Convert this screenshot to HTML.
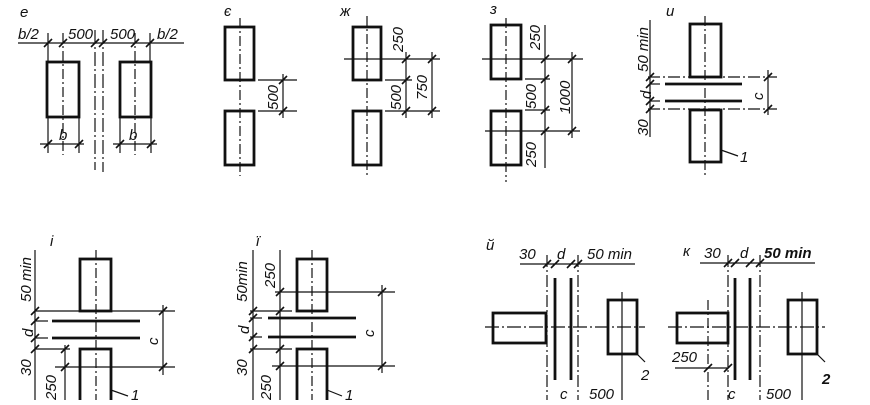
<!DOCTYPE html>
<html><head><meta charset="utf-8"><style>
body{margin:0;background:#fff;width:870px;height:400px;overflow:hidden}
text{font-family:"Liberation Sans","DejaVu Sans",sans-serif;font-style:italic;font-size:15px;fill:#111}
</style></head><body>
<svg width="870" height="400" viewBox="0 0 870 400" xmlns="http://www.w3.org/2000/svg">
<defs><path id="t" d="M-4,4 L4,-4" stroke="#111" stroke-width="1.6"/></defs>
<g stroke="#111" fill="none">
<!-- e -->
<g stroke-width="2.8"><rect x="47" y="62" width="32" height="55"/><rect x="120" y="62" width="31" height="55"/></g>
<g stroke-width="1.2">
<line x1="18" y1="43" x2="184" y2="43"/>
<line x1="48" y1="33" x2="48" y2="62"/><line x1="63" y1="33" x2="63" y2="155" stroke-dasharray="10,3,2,3"/>
<line x1="135" y1="33" x2="135" y2="155" stroke-dasharray="10,3,2,3"/><line x1="150" y1="33" x2="150" y2="62"/>
<line x1="95" y1="30" x2="95" y2="170" stroke-dasharray="14,3,2,3"/><line x1="103" y1="30" x2="103" y2="172" stroke-dasharray="14,3,2,3"/>
<line x1="40" y1="144" x2="84" y2="144"/><line x1="113" y1="144" x2="157" y2="144"/>
<line x1="48" y1="117" x2="48" y2="153"/><line x1="79" y1="117" x2="79" y2="153"/>
<line x1="120" y1="117" x2="120" y2="153"/><line x1="151" y1="117" x2="151" y2="153"/>
</g>
<!-- є -->
<g stroke-width="2.8"><rect x="225" y="27" width="29" height="53"/><rect x="225" y="111" width="29" height="54"/></g>
<g stroke-width="1.2">
<line x1="240" y1="18" x2="240" y2="176" stroke-dasharray="10,3,2,3"/>
<line x1="258" y1="80" x2="297" y2="80"/><line x1="258" y1="111" x2="297" y2="111"/>
<line x1="283" y1="74" x2="283" y2="118"/>
</g>
<!-- ж -->
<g stroke-width="2.8"><rect x="353" y="27" width="28" height="53"/><rect x="353" y="111" width="28" height="54"/></g>
<g stroke-width="1.2">
<line x1="367" y1="16" x2="367" y2="176" stroke-dasharray="10,3,2,3"/>
<line x1="344" y1="59" x2="440" y2="59"/><line x1="385" y1="80" x2="412" y2="80"/><line x1="385" y1="111" x2="440" y2="111"/>
<line x1="406" y1="52" x2="406" y2="118"/><line x1="432" y1="52" x2="432" y2="118"/>
</g>
<!-- з -->
<g stroke-width="2.8"><rect x="491" y="25" width="30" height="54"/><rect x="491" y="111" width="30" height="54"/></g>
<g stroke-width="1.2">
<line x1="506" y1="18" x2="506" y2="182" stroke-dasharray="10,3,2,3"/>
<line x1="482" y1="59" x2="583" y2="59"/><line x1="485" y1="131" x2="580" y2="131"/>
<line x1="525" y1="79" x2="550" y2="79"/><line x1="525" y1="110" x2="550" y2="110"/>
<line x1="545" y1="25" x2="545" y2="168"/><line x1="572" y1="52" x2="572" y2="138"/>
</g>
<!-- и -->
<g stroke-width="2.8"><rect x="690" y="24" width="31" height="53"/><rect x="690" y="110" width="31" height="52"/>
<line x1="665" y1="84" x2="742" y2="84"/><line x1="665" y1="101" x2="742" y2="101"/></g>
<g stroke-width="1.2">
<line x1="705" y1="16" x2="705" y2="176" stroke-dasharray="10,3,2,3"/>
<line x1="650" y1="20" x2="650" y2="137"/>
<line x1="648" y1="77" x2="777" y2="77" stroke-dasharray="12,3,2,3"/><line x1="648" y1="109" x2="777" y2="109" stroke-dasharray="12,3,2,3"/>
<line x1="650" y1="84" x2="660" y2="84"/><line x1="650" y1="101" x2="660" y2="101"/>
<line x1="768" y1="70" x2="768" y2="115"/>
<line x1="721" y1="150" x2="738" y2="156"/>
</g>
<!-- і -->
<g stroke-width="2.8"><rect x="80" y="259" width="31" height="52"/><rect x="80" y="349" width="31" height="55"/>
<line x1="52" y1="321" x2="140" y2="321"/><line x1="52" y1="338" x2="140" y2="338"/></g>
<g stroke-width="1.2">
<line x1="96" y1="250" x2="96" y2="400" stroke-dasharray="10,3,2,3"/>
<line x1="35" y1="250" x2="35" y2="400"/>
<line x1="35" y1="311" x2="175" y2="311"/><line x1="35" y1="349" x2="70" y2="349"/>
<line x1="35" y1="321" x2="48" y2="321"/><line x1="35" y1="338" x2="48" y2="338"/>
<line x1="55" y1="367" x2="175" y2="367"/><line x1="65" y1="345" x2="65" y2="400"/>
<line x1="163" y1="305" x2="163" y2="375"/>
<line x1="111" y1="390" x2="128" y2="396"/>
</g>
<!-- ї -->
<g stroke-width="2.8"><rect x="297" y="259" width="30" height="52"/><rect x="297" y="349" width="30" height="55"/>
<line x1="268" y1="318" x2="356" y2="318"/><line x1="268" y1="337" x2="356" y2="337"/></g>
<g stroke-width="1.2">
<line x1="312" y1="250" x2="312" y2="400" stroke-dasharray="10,3,2,3"/>
<line x1="253" y1="250" x2="253" y2="400"/><line x1="280" y1="250" x2="280" y2="400"/>
<line x1="275" y1="292" x2="395" y2="292"/><line x1="272" y1="366" x2="395" y2="366"/>
<line x1="250" y1="311" x2="292" y2="311"/><line x1="250" y1="349" x2="292" y2="349"/>
<line x1="250" y1="318" x2="262" y2="318"/><line x1="250" y1="337" x2="262" y2="337"/>
<line x1="382" y1="285" x2="382" y2="373"/>
<line x1="327" y1="390" x2="342" y2="396"/>
</g>
<!-- й -->
<g stroke-width="2.8"><rect x="493" y="313" width="53" height="30"/><rect x="608" y="300" width="29" height="54"/>
<line x1="555" y1="278" x2="555" y2="380"/><line x1="571" y1="278" x2="571" y2="380"/></g>
<g stroke-width="1.2">
<line x1="520" y1="264" x2="635" y2="264"/>
<line x1="547" y1="255" x2="547" y2="400" stroke-dasharray="12,3,2,3"/><line x1="578" y1="255" x2="578" y2="400" stroke-dasharray="12,3,2,3"/>
<line x1="485" y1="327" x2="645" y2="327" stroke-dasharray="14,3,2,3"/>
<line x1="622" y1="292" x2="622" y2="400"/>
<line x1="637" y1="354" x2="645" y2="362"/>
</g>
<!-- к -->
<g stroke-width="2.8"><rect x="677" y="313" width="51" height="30"/><rect x="788" y="300" width="29" height="54"/>
<line x1="735" y1="278" x2="735" y2="380"/><line x1="750" y1="278" x2="750" y2="380"/></g>
<g stroke-width="1.2">
<line x1="700" y1="263" x2="815" y2="263"/>
<line x1="728" y1="255" x2="728" y2="400" stroke-dasharray="12,3,2,3"/><line x1="760" y1="255" x2="760" y2="400" stroke-dasharray="12,3,2,3"/>
<line x1="668" y1="327" x2="825" y2="327" stroke-dasharray="14,3,2,3"/>
<line x1="708" y1="300" x2="708" y2="400" stroke-dasharray="10,3,2,3"/>
<line x1="675" y1="368" x2="728" y2="368"/>
<line x1="802" y1="292" x2="802" y2="400"/>
<line x1="817" y1="354" x2="825" y2="362"/>
</g>
</g>
<!-- ticks -->
<g>
<use href="#t" x="48" y="43"/><use href="#t" x="63" y="43"/><use href="#t" x="95" y="43"/><use href="#t" x="103" y="43"/><use href="#t" x="135" y="43"/><use href="#t" x="150" y="43"/>
<use href="#t" x="48" y="144"/><use href="#t" x="79" y="144"/><use href="#t" x="120" y="144"/><use href="#t" x="151" y="144"/>
<use href="#t" x="283" y="80"/><use href="#t" x="283" y="111"/>
<use href="#t" x="406" y="59"/><use href="#t" x="406" y="80"/><use href="#t" x="406" y="111"/><use href="#t" x="432" y="59"/><use href="#t" x="432" y="111"/>
<use href="#t" x="545" y="59"/><use href="#t" x="545" y="79"/><use href="#t" x="545" y="110"/><use href="#t" x="545" y="131"/><use href="#t" x="572" y="59"/><use href="#t" x="572" y="131"/>
<use href="#t" x="650" y="77"/><use href="#t" x="650" y="84"/><use href="#t" x="650" y="101"/><use href="#t" x="650" y="109"/><use href="#t" x="768" y="77"/><use href="#t" x="768" y="109"/>
<use href="#t" x="35" y="311"/><use href="#t" x="35" y="321"/><use href="#t" x="35" y="338"/><use href="#t" x="35" y="349"/><use href="#t" x="163" y="311"/><use href="#t" x="163" y="367"/><use href="#t" x="65" y="349"/><use href="#t" x="65" y="367"/>
<use href="#t" x="253" y="311"/><use href="#t" x="253" y="318"/><use href="#t" x="253" y="337"/><use href="#t" x="253" y="349"/><use href="#t" x="280" y="292"/><use href="#t" x="280" y="311"/><use href="#t" x="280" y="349"/><use href="#t" x="280" y="366"/><use href="#t" x="382" y="292"/><use href="#t" x="382" y="366"/>
<use href="#t" x="547" y="264"/><use href="#t" x="555" y="264"/><use href="#t" x="571" y="264"/><use href="#t" x="578" y="264"/>
<use href="#t" x="728" y="263"/><use href="#t" x="735" y="263"/><use href="#t" x="750" y="263"/><use href="#t" x="760" y="263"/><use href="#t" x="708" y="368"/><use href="#t" x="728" y="368"/>
</g>
<!-- labels -->
<text x="20" y="17" font-size="16">е</text>
<text x="18" y="39">b/2</text><text x="68" y="39">500</text>
<text x="110" y="39">500</text><text x="157" y="39">b/2</text>
<text x="59" y="140" font-size="16">b</text><text x="129" y="140" font-size="16">b</text>
<text x="224" y="16" font-size="16">є</text>
<text x="340" y="16" font-size="13">ж</text>
<text x="490" y="14" font-size="16">з</text>
<text x="666" y="16" font-size="16">и</text>
<text x="50" y="246" font-size="16">і</text>
<text x="256" y="246" font-size="16">ї</text>
<text x="486" y="250" font-size="16">й</text>
<text x="683" y="256" font-size="16">к</text>
<text transform="translate(278,110) rotate(-90)">500</text>
<text transform="translate(403,52) rotate(-90)">250</text>
<text transform="translate(401,110) rotate(-90)">500</text>
<text transform="translate(427,100) rotate(-90)">750</text>
<text transform="translate(540,50) rotate(-90)">250</text>
<text transform="translate(536,109) rotate(-90)">500</text>
<text transform="translate(570,114) rotate(-90)">1000</text>
<text transform="translate(536,167) rotate(-90)">250</text>
<text transform="translate(648,72) rotate(-90)">50 min</text>
<text transform="translate(651,99) rotate(-90)" font-size="16">d</text>
<text transform="translate(648,136) rotate(-90)">30</text>
<text transform="translate(763,100) rotate(-90)" font-size="16">c</text>
<text x="740" y="162" font-size="16">1</text>
<text transform="translate(31,302) rotate(-90)">50 min</text>
<text transform="translate(33,337) rotate(-90)" font-size="16">d</text>
<text transform="translate(31,376) rotate(-90)">30</text>
<text transform="translate(56,400) rotate(-90)">250</text>
<text transform="translate(158,345) rotate(-90)" font-size="16">c</text>
<text x="131" y="400" font-size="16">1</text>
<text transform="translate(247,302) rotate(-90)">50min</text>
<text transform="translate(275,288) rotate(-90)">250</text>
<text transform="translate(249,334) rotate(-90)" font-size="16">d</text>
<text transform="translate(247,376) rotate(-90)">30</text>
<text transform="translate(271,400) rotate(-90)">250</text>
<text transform="translate(374,337) rotate(-90)" font-size="16">c</text>
<text x="345" y="400" font-size="16">1</text>
<text x="519" y="259">30</text><text x="557" y="259" font-size="16">d</text><text x="587" y="259">50 min</text>
<text x="641" y="380" font-size="16">2</text>
<text x="560" y="399" font-size="16">c</text><text x="589" y="399">500</text>
<text x="704" y="258">30</text><text x="740" y="258" font-size="16">d</text><text x="764" y="258" font-weight="bold">50 min</text>
<text x="672" y="362">250</text>
<text x="822" y="384" font-size="18" font-weight="bold">2</text>
<text x="728" y="399" font-size="16">c</text><text x="766" y="399">500</text>
</svg>
</body></html>
